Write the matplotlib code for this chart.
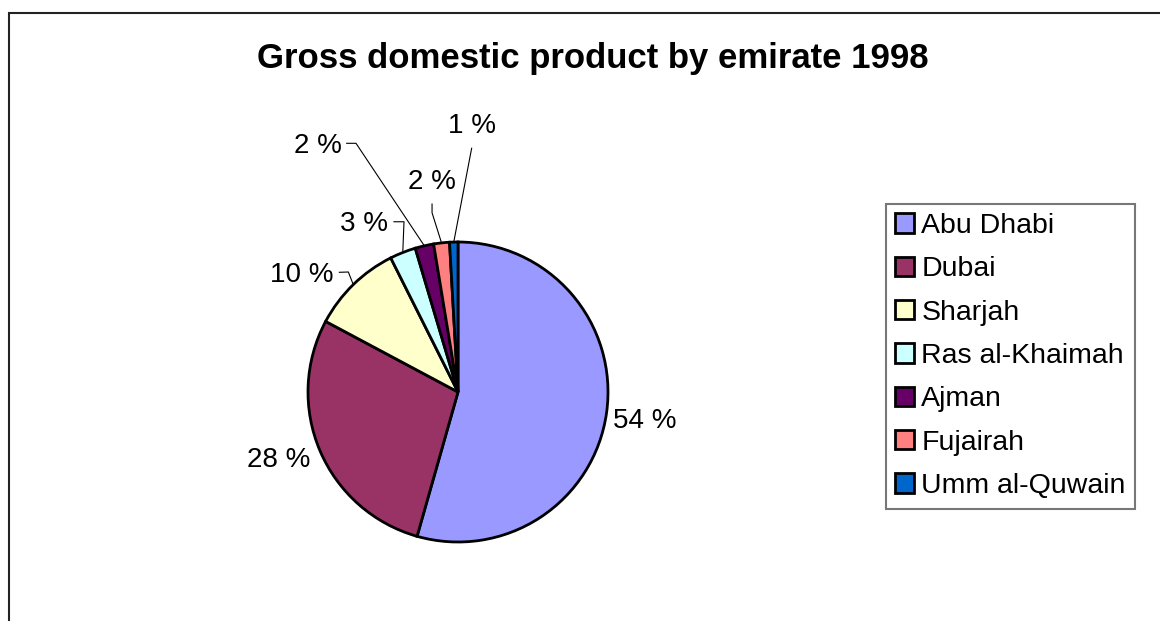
import matplotlib
matplotlib.use('Agg')
import matplotlib.pyplot as plt, numpy as np
from matplotlib.patches import Rectangle

plt.rcParams['font.family'] = ['Liberation Sans', 'DejaVu Sans']

# GDP share by emirate, 1998 (%)
emirates = ['Abu Dhabi', 'Dubai', 'Sharjah', 'Ras al-Khaimah', 'Ajman', 'Fujairah', 'Umm al-Quwain']
share = [54.4, 28.4, 9.8, 2.8, 2.0, 1.7, 0.9]
colors = ['#9999FF', '#993366', '#FFFFCC', '#CCFFFF', '#660066', '#FF8080', '#0066CC']

# label layout (data units, pie radius = 1): text anchor, alignment, leader start, leader elbow
label_xy = [(1.031, -0.175), (-0.987, -0.431), (-0.833, 0.802), (-0.465, 1.142),
            (-0.775, 1.658), (-0.177, 1.42), (0.091, 1.795)]
label_ha = ['left', 'right', 'right', 'right', 'right', 'center', 'center']
leader_start = [None, None, (-0.791, 0.798), (-0.427, 1.135), (-0.742, 1.658), (-0.173, 1.253), (0.091, 1.625)]
leader_elbow = [None, None, (-0.731, 0.800), (-0.360, 1.135), (-0.680, 1.658), (-0.173, 1.195), None]

W, H = 1160, 621
fig = plt.figure(figsize=(W/100, H/100), dpi=100)

# chart frame (only top and left edges visible)
fig.add_artist(Rectangle((9/W, -0.2), 1.5, 1.2 - 13/H, transform=fig.transFigure,
                         fill=False, edgecolor='#222222', linewidth=1.5))

fig.text(592.5/W, 1 - 68/H, 'Gross domestic product by emirate 1998',
         ha='center', va='baseline', fontsize=25, fontweight='bold')

cx, cy, R = 458, 392, 150
ax = fig.add_axes([(cx - 1.5*R)/W, (H - cy - 1.5*R)/H, 3*R/W, 3*R/H])
wedges, _ = ax.pie(share, colors=colors, startangle=90, counterclock=False, radius=1,
                   wedgeprops=dict(edgecolor='black', linewidth=2))
ax.set_xlim(-1.5, 1.5)
ax.set_ylim(-1.5, 1.5)
ax.axis('off')

cap = 10/R  # half cap height in data units
for i, w in enumerate(wedges):
    lx, ly = label_xy[i]
    ax.text(lx, ly - cap, f'{share[i]:.0f} %', ha=label_ha[i], va='baseline', fontsize=20)
    if leader_start[i] is not None:
        mid = np.deg2rad((w.theta1 + w.theta2) / 2)
        pts = [leader_start[i]]
        if leader_elbow[i] is not None:
            pts.append(leader_elbow[i])
        pts.append((np.cos(mid), np.sin(mid)))
        xs, ys = zip(*pts)
        ax.plot(xs, ys, color='black', linewidth=0.8, clip_on=False)

leg = fig.legend(wedges, emirates, loc='center left', bbox_to_anchor=(885.7/W, 1 - 356/H),
                 fontsize=20.5, frameon=True, fancybox=False, borderaxespad=0,
                 handlelength=0.67, handleheight=0.67, handletextpad=0.25,
                 labelspacing=0.61, borderpad=0.33)
leg.get_frame().set_edgecolor('#555555')
leg.get_frame().set_linewidth(1.5)
for h in leg.legend_handles:
    h.set_linewidth(2)

fig.savefig('out.png', dpi=100)
